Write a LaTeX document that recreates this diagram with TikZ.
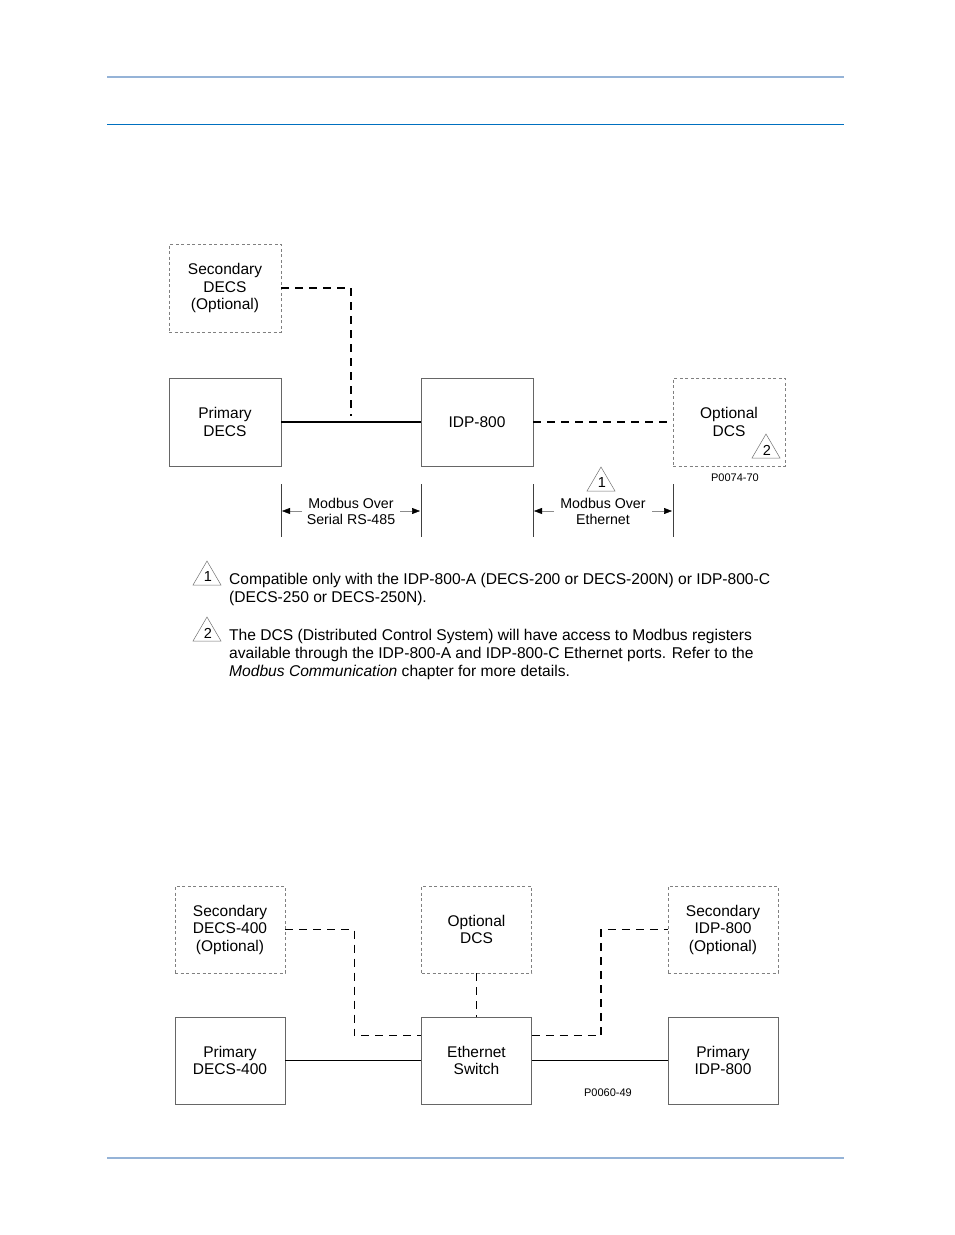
\documentclass[tikz,border=0pt]{standalone}
\usepackage{fontspec}
\setmainfont{Liberation Sans}
\usetikzlibrary{calc,arrows.meta}
\definecolor{rulelight}{HTML}{95B3D7}
\definecolor{ruledark}{HTML}{0070C0}
\newcommand\warnmark[3]{%
  \draw[black!55, line width=0.5pt] ($(#1,#2)+(0,-12)$) -- ($(#1,#2)+(14,12)$) -- ($(#1,#2)+(-14,12)$) -- cycle;
  \node[font=\fontsize{14.5}{14.5}\selectfont, inner sep=0pt] at ($(#1,#2)+(1,4)$) {#3};}

\begin{document}
\begin{tikzpicture}[x=1pt, y=-1pt,
  unitbox/.style={draw=black!60, line width=0.8pt, minimum width=112pt, minimum height=88pt,
    align=center, inner sep=0pt, font=\fontsize{15.5}{17.5}\selectfont},
  optbox/.style={unitbox, draw=black!50, dash pattern=on 3pt off 2.5pt},
  smallbox/.style={minimum width=110pt, minimum height=87pt},
  serialline/.style={line width=1.3pt},
  ethline/.style={line width=0.9pt},
  optline/.style={line width=1.5pt, dash pattern=on 8pt off 6pt},
  dimline/.style={line width=0.7pt, black!75},
  dimarrow/.style={line width=0.5pt, black!45, -{Triangle[length=8pt, width=6pt, color=black]}},
  dimlabel/.style={align=center, inner sep=0pt, font=\fontsize{14.2}{16}\selectfont},
  figno/.style={inner sep=0pt, font=\fontsize{11}{11}\selectfont},
  notetext/.style={anchor=north west, align=left, inner sep=0pt, font=\fontsize{15.6}{18}\selectfont}]
		%%%%% PAGE %%%%%
		\useasboundingbox[fill=white] (0,0) rectangle (954,1235);
		\draw[rulelight, line width=2pt] (107,77) -- (844,77);
		\draw[ruledark, line width=1pt] (107,124) -- (844,124);
		\draw[rulelight, line width=2pt] (107,1158) -- (844,1158);
		
		%%%%% SERIAL / ETHERNET %%%%%
		\node[optbox] (secdecs) at (225,288) {Secondary\\DECS\\(Optional)};
		\node[unitbox] (pridecs) at (225,422) {Primary\\DECS};
		\node[unitbox] (idp) at (477,422) {IDP-800};
		\node[optbox] (optdcs) at (729,422) {Optional\\DCS};
		
		\draw[serialline] (pridecs.east) -- (idp.west);
		\coordinate (tap) at ($(pridecs.east)!0.5!(idp.west)$);
		\draw[optline] (secdecs.east) -| ($(tap)+(0,-6)$);
		\draw[optline] (idp.east) -- (optdcs.west);
		
		\warnmark{766}{446}{2}
		\node[figno] (figa) at (735,478) {P0074-70};
		
		\draw[dimline] (281,484) -- (281,537);
		\draw[dimline] (421,484) -- (421,537);
		\draw[dimline] (533,484) -- (533,537);
		\draw[dimline] (673,484) -- (673,537);
		\node[dimlabel] (serlabel) at (351,511) {Modbus Over\\Serial RS-485};
		\node[dimlabel] (ethlabel) at (603,511) {Modbus Over\\Ethernet};
		\draw[dimarrow] (302,511) -- (282,511);
		\draw[dimarrow] (400,511) -- (420,511);
		\draw[dimarrow] (554,511) -- (534,511);
		\draw[dimarrow] (652,511) -- (672,511);
		\warnmark{601}{479}{1}
		
		%%%%% NOTES %%%%%
		\warnmark{207}{573}{1}
		\node[notetext] (notea) at (229,573) {Compatible only with the IDP-800-A (DECS-200 or DECS-200N) or IDP-800-C\\(DECS-250 or DECS-250N).};
		\warnmark{207}{629}{2}
		\node[notetext] (noteb) at (229,629) {The DCS (Distributed Control System) will have access to Modbus registers\\available through the IDP-800-A and IDP-800-C Ethernet ports. Refer to the\\\textit{Modbus Communication} chapter for more details.};
		
		%%%%% ETHERNET SWITCH %%%%%
		\node[optbox, smallbox] (secfour) at (230,929.5) {Secondary\\DECS-400\\(Optional)};
		\node[optbox, smallbox] (optdcsb) at (476.5,929.5) {Optional\\DCS};
		\node[optbox, smallbox] (secidp) at (723,929.5) {Secondary\\IDP-800\\(Optional)};
		\node[unitbox, smallbox] (prifour) at (230,1060.5) {Primary\\DECS-400};
		\node[unitbox, smallbox] (ethsw) at (476.5,1060.5) {Ethernet\\Switch};
		\node[unitbox, smallbox] (priidp) at (723,1060.5) {Primary\\IDP-800};
		
		\draw[ethline] (prifour.east) -- (ethsw.west);
		\draw[ethline] (ethsw.east) -- (priidp.west);
		\coordinate (swin) at ($(ethsw.west)+(0,-25)$);
		\coordinate (swout) at ($(ethsw.east)+(0,-25)$);
		\draw[optline] (secfour.east) -- ++(69,0) |- (swin);
		\draw[optline] (optdcsb.south) -- (ethsw.north);
		\draw[optline] (swout) -- ++(69,0) |- (secidp.west);
		\node[figno] (figb) at (608,1093) {P0060-49};
		
		%%%%% END %%%%%
	\end{tikzpicture}
\end{document}
